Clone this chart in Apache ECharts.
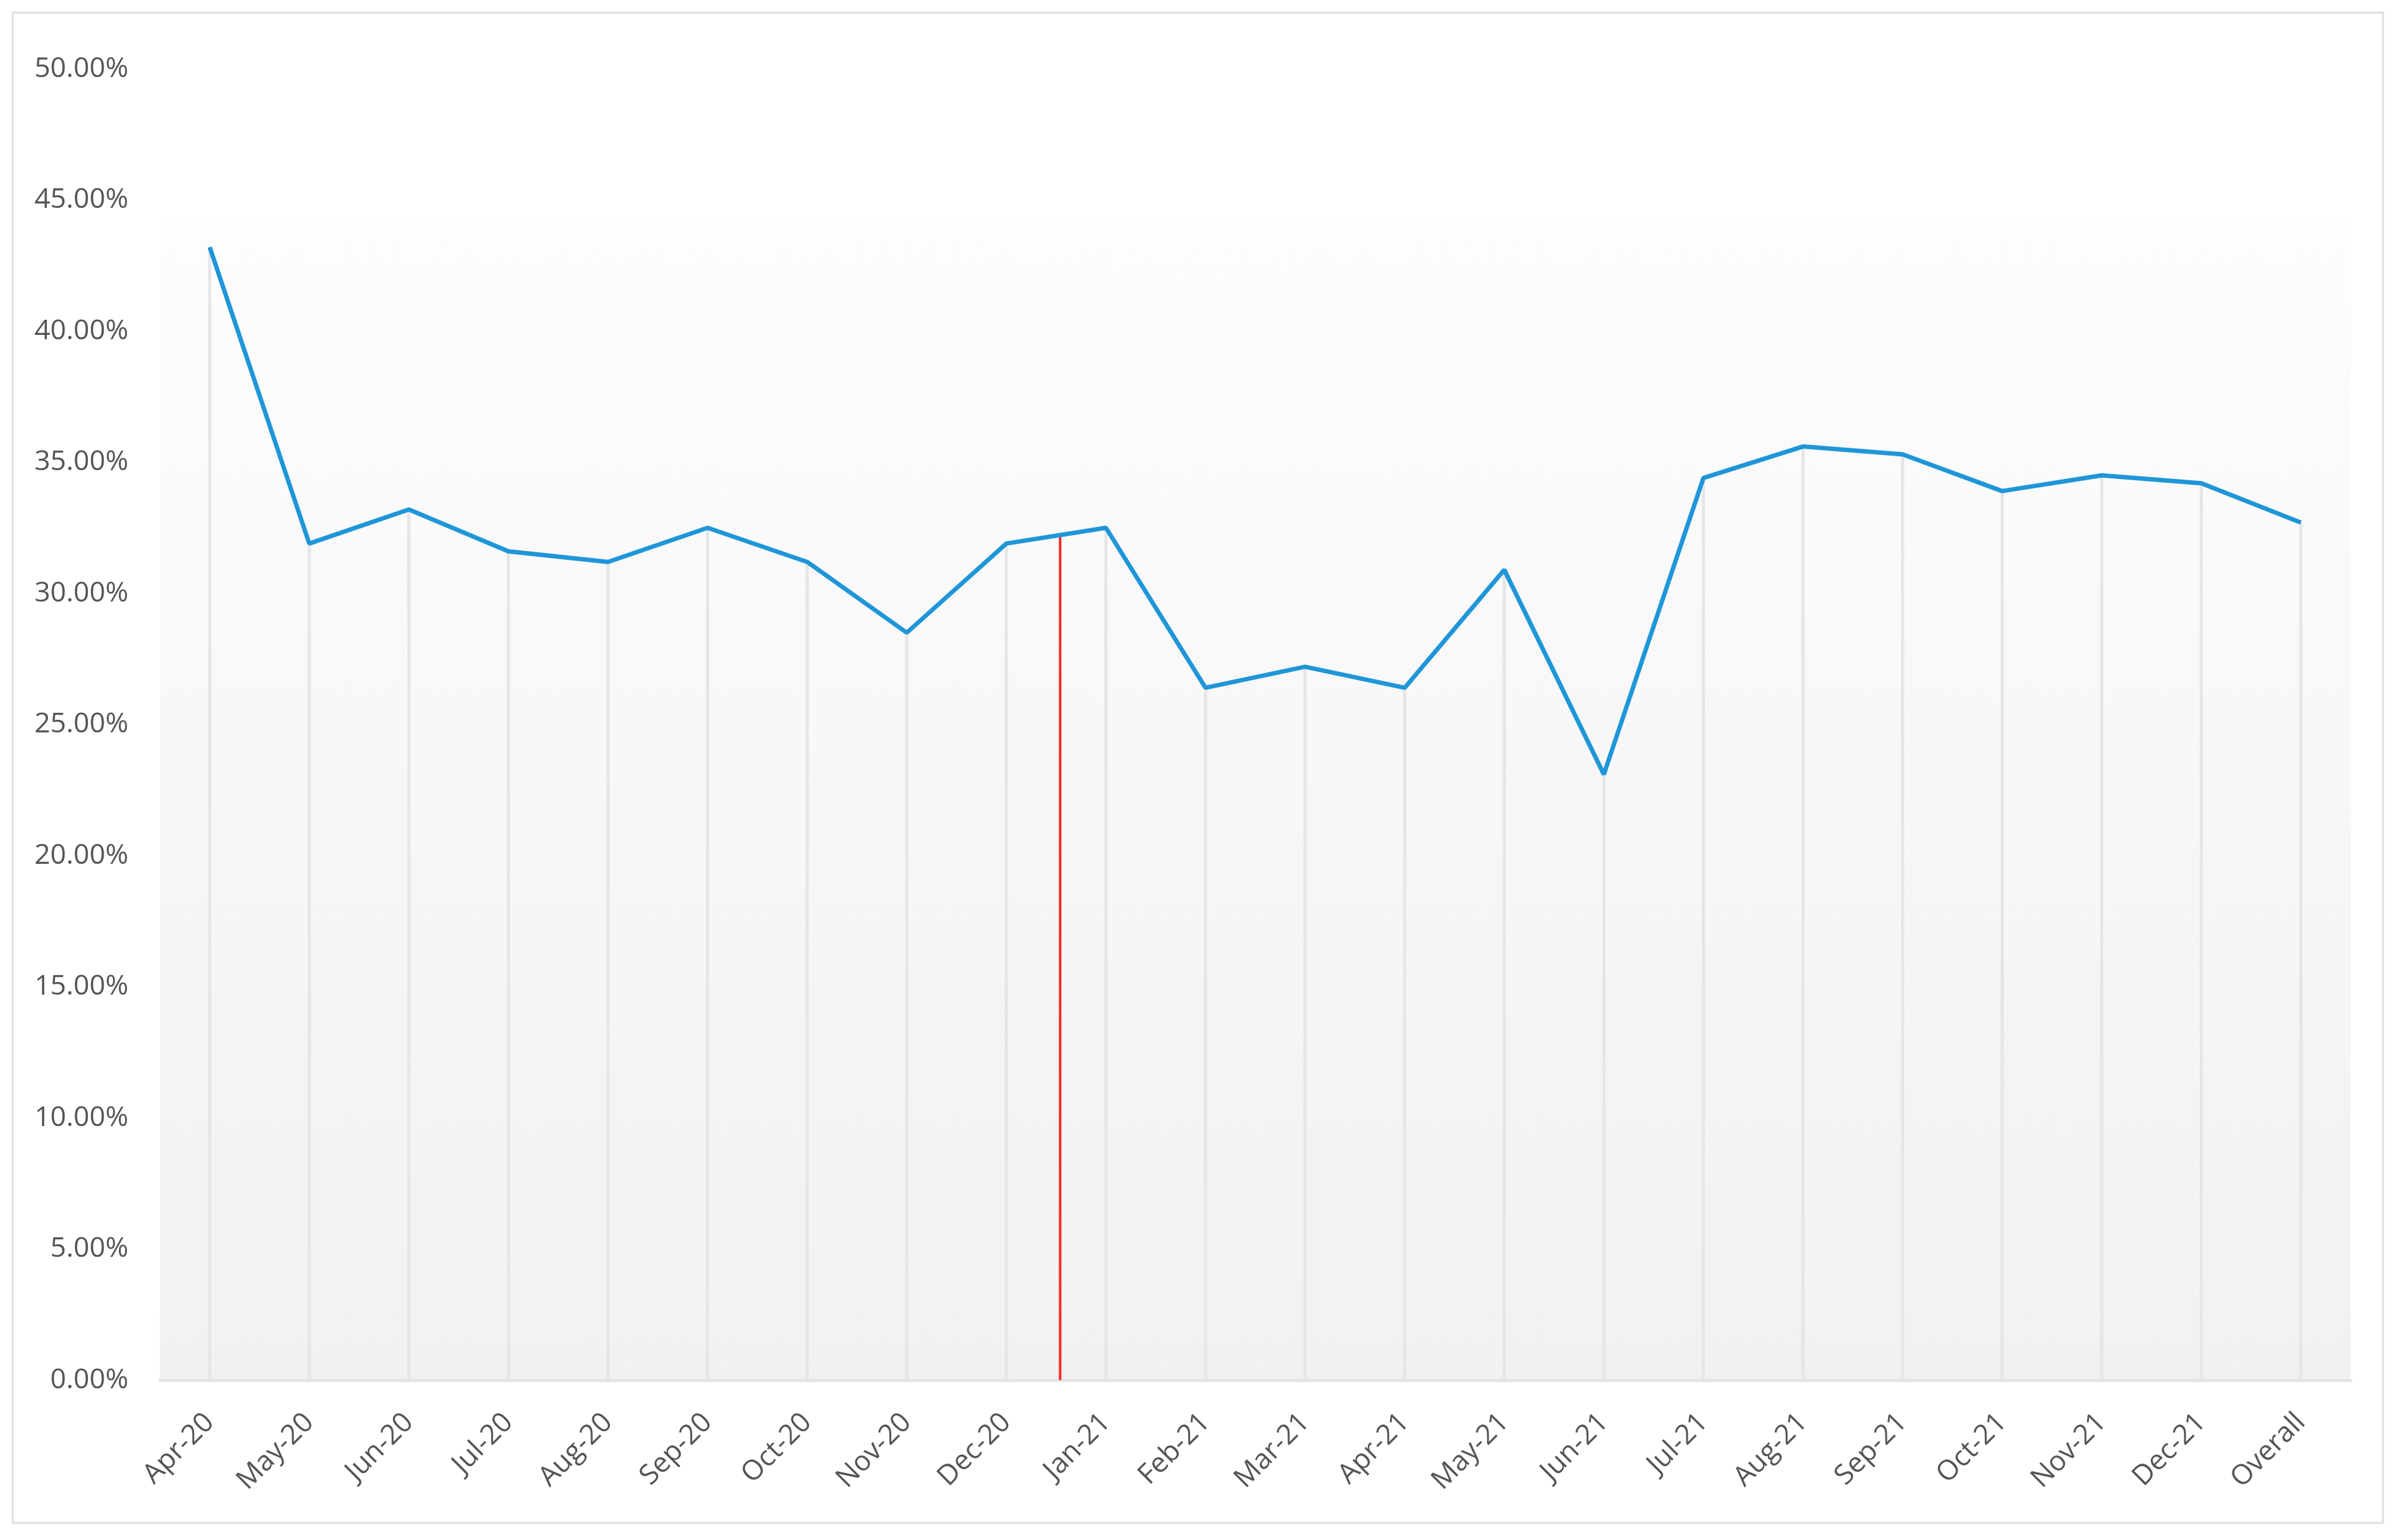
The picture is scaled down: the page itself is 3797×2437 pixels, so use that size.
<!DOCTYPE html>
<html>
<head>
<meta charset="utf-8">
<script src="https://cdn.jsdelivr.net/npm/echarts@6/dist/echarts.min.js"></script>
<style>
  html, body { margin: 0; padding: 0; background: #ffffff; }
  #chart { width: 3797px; height: 2437px; }
</style>
</head>
<body>
<div id="chart"></div>
<script>
// ---- data ----
const categories = ['Apr-20','May-20','Jun-20','Jul-20','Aug-20','Sep-20','Oct-20','Nov-20','Dec-20',
  'Jan-21','Feb-21','Mar-21','Apr-21','May-21','Jun-21','Jul-21','Aug-21','Sep-21','Oct-21','Nov-21','Dec-21','Overall'];
const rates = [43.2, 31.9, 33.2, 31.6, 31.2, 32.5, 31.2, 28.5, 31.9,
  32.5, 26.4, 27.2, 26.4, 30.9, 23.1, 34.4, 35.6, 35.3, 33.9, 34.5, 34.2, 32.7];
const yTicks = [0, 5, 10, 15, 20, 25, 30, 35, 40, 45, 50];
// vertical marker between Dec-20 and Jan-21 (category position ~8.54), from 0 up to the line
const markerLine = [[8.54, 0], [8.54, 32.25]];

const chart = echarts.init(document.getElementById('chart'));
const textColor = '#555555';
const font = '"Open Sans", "Noto Sans", sans-serif';

chart.setOption({
  backgroundColor: '#ffffff',
  animation: false,
  graphic: [{
    type: 'rect',
    shape: { x: 20, y: 20, width: 3750, height: 2390 },
    style: { fill: 'none', stroke: '#dedede', lineWidth: 3 },
    silent: true
  }],
  grid: {
    left: 253, right: 78, top: 109, bottom: 253,
    show: true,
    borderWidth: 0,
    backgroundColor: {
      type: 'linear', x: 0, y: 0, x2: 0, y2: 1,
      colorStops: [
        { offset: 0, color: '#ffffff' },
        { offset: 0.112, color: '#ffffff' },
        { offset: 0.117, color: '#fdfdfd' },
        { offset: 1, color: '#f1f1f1' }
      ]
    }
  },
  xAxis: [{
    type: 'category',
    data: categories,
    boundaryGap: true,
    axisLine: { show: true, lineStyle: { color: '#e4e4e4', width: 5 } },
    axisTick: { show: false },
    splitLine: { show: false },
    axisLabel: {
      rotate: 45,
      margin: 60,
      interval: 0,
      color: textColor,
      fontFamily: font,
      fontSize: 44
    }
  }, {
    type: 'value',
    min: -0.5,
    max: categories.length - 0.5,
    show: false
  }],
  yAxis: {
    type: 'value',
    min: yTicks[0],
    max: yTicks[yTicks.length - 1],
    interval: yTicks[1] - yTicks[0],
    axisLine: { show: false },
    axisTick: { show: false },
    splitLine: { show: false },
    axisLabel: {
      margin: 50,
      color: textColor,
      fontFamily: font,
      fontSize: 44,
      formatter: v => v.toFixed(2) + '%'
    }
  },
  series: [{
    name: 'drop',
    type: 'bar',
    data: rates,
    barWidth: 5,
    itemStyle: { color: '#e6e6e6' },
    silent: true,
    z: 1
  }, {
    name: 'marker',
    type: 'line',
    xAxisIndex: 1,
    data: markerLine,
    symbol: 'none',
    lineStyle: { color: '#ff2a2a', width: 4 },
    silent: true,
    z: 2
  }, {
    name: 'rate',
    type: 'line',
    data: rates,
    symbol: 'none',
    lineStyle: { color: '#1f96d8', width: 7 },
    z: 3
  }]
});
</script>
</body>
</html>
